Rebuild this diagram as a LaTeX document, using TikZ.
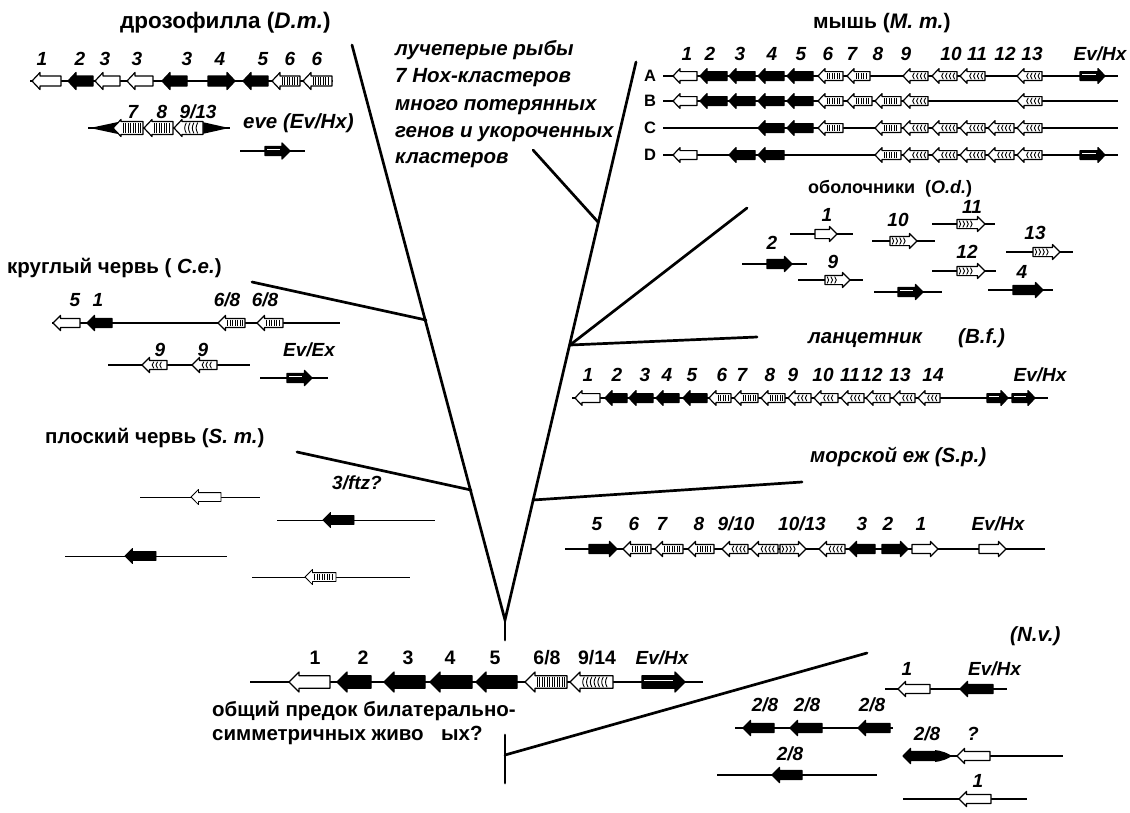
\documentclass[tikz,border=0pt]{standalone}
\usepackage{fontspec}
\setmainfont{Liberation Sans}
\newcommand\ghh{7.6}
\newcommand\gbh{4.4}
\newcommand\ghl{7.5}
\tikzset{
  chrom/.style={line width=1.2pt},
  branch/.style={line width=2.7pt,line cap=round},
  genebox/.style={line width=1.2pt,line join=round,draw=black},
  ttl/.style={font=\fontsize{20.5}{24}\selectfont\bfseries,inner sep=0pt,anchor=base west},
  ttli/.style={font=\fontsize{20.5}{24}\selectfont\bfseries\itshape,inner sep=0pt,anchor=base west},
  num/.style={font=\fontsize{19}{20}\selectfont\bfseries\itshape,inner sep=0pt,anchor=base},
  numw/.style={font=\fontsize{19}{20}\selectfont\bfseries\itshape,inner sep=0pt,anchor=base west},
  numu/.style={font=\fontsize{19.5}{20}\selectfont\bfseries,inner sep=0pt,anchor=base},
  rowlab/.style={font=\fontsize{16.5}{18}\selectfont\bfseries,inner sep=0pt,anchor=center},
}
\newcommand\gdraw[1]{\path[#1] (\gtip,\gy) -- (\gneck,\gy-\ghh) -- (\gneck,\gy-\gbh) -- (\gtail,\gy-\gbh) -- (\gtail,\gy+\gbh) -- (\gneck,\gy+\gbh) -- (\gneck,\gy+\ghh) -- cycle;}
\newcommand\gfillW{\gdraw{genebox,fill=white}}
\newcommand\gfillB{\gdraw{genebox,fill=black}}
\newcommand\gfillK{\gdraw{genebox,fill=black}\draw[white,line width=0.9pt] (\glo,\gy-1.2) -- (\ghi,\gy-1.2);}
\newcommand\gfillS{\gdraw{genebox,fill=white}%
  \pgfmathsetmacro\gnext{\glo+2.5}%
  \foreach \xx in {\glo,\gnext,...,\ghi}{\draw[line width=0.9pt] (\xx,\gy-\gbh+1.2) -- (\xx,\gy+\gbh-1.2);}}
\newcommand\gfillC{\gdraw{genebox,fill=white}%
  \pgfmathsetmacro\gfirst{\glo+1}\pgfmathsetmacro\gnext{\glo+4.8}\pgfmathsetmacro\glast{\ghi-1}%
  \foreach \xx in {\gfirst,\gnext,...,\glast}{%
    \pgfmathsetmacro\xa{\xx+\gs}\pgfmathsetmacro\xb{\xx-\gs}%
    \draw[line width=0.9pt,line cap=round] (\xa,\gy-\gbh+1.4) .. controls (\xb,\gy-1) and (\xb,\gy+1) .. (\xa,\gy+\gbh-1.4);}}
\newcommand\gene[5]{%
  \begingroup
  \def\gy{#5}%
  \if L#2\relax
    \pgfmathsetmacro\gtip{#3}\pgfmathsetmacro\gneck{#3+\ghl}\pgfmathsetmacro\gtail{#4}\def\gs{1}%
  \else
    \pgfmathsetmacro\gtip{#4}\pgfmathsetmacro\gneck{#4-\ghl}\pgfmathsetmacro\gtail{#3}\def\gs{(-1)}%
  \fi
  \pgfmathsetmacro\gA{\gneck+\gs*2.2}%
  \pgfmathsetmacro\gB{\gtail-\gs*2.2}%
  \pgfmathsetmacro\glo{min(\gA,\gB)}%
  \pgfmathsetmacro\ghi{max(\gA,\gB)}%
  \csname gfill#1\endcsname
  \endgroup}
\newcommand\lab[4][num]{\node[#1] (#2) at (#3) {#4};}
\begin{document}
\begin{tikzpicture}[x=1pt,y=-1pt]
\fill[white] (0,0) rectangle (1130,812);
\useasboundingbox (0,0) rectangle (1130,812);

% ---------------- tree ----------------
\coordinate (root) at (505,640);
\coordinate (V) at (505,620);
\coordinate (Ltop) at (352,45);
\coordinate (Rtop) at (636,62);
\coordinate (jFish) at (598,222);
\coordinate (fishEnd) at (533,150);
\coordinate (jTun) at (570,345);
\coordinate (tunEnd) at (747,208);
\coordinate (lanEnd) at (757,337);
\coordinate (jUrch) at (533,500);
\coordinate (urchEnd) at (802,482);
\coordinate (jRound) at (426,320);
\coordinate (roundEnd) at (252,282);
\coordinate (jFlat) at (471,490);
\coordinate (flatEnd) at (297,452);
\coordinate (nvTop) at (505,735);
\coordinate (nvBot) at (505,783);
\coordinate (jNv) at (505,755);
\coordinate (nvEnd) at (867,653);
\draw[branch] (Ltop) -- (V) -- (Rtop);
\draw[branch] (V) -- (root);
\draw[branch] (jFish) -- (fishEnd);
\draw[branch] (jTun) -- (tunEnd);
\draw[branch] (jTun) -- (lanEnd);
\draw[branch] (jUrch) -- (urchEnd);
\draw[branch] (jRound) -- (roundEnd);
\draw[branch] (jFlat) -- (flatEnd);
\draw[branch] (nvTop) -- (nvBot);
\draw[branch] (jNv) -- (nvEnd);

% ---------------- Drosophila ----------------
\lab[ttl,font=\fontsize{22.5}{24}\selectfont\bfseries]{dmT}{120,28}{дрозофилла (\textit{D.m.})}
\begin{scope}
\def\gbh{5}\def\ghh{8.5}\def\ghl{8}
\draw[chrom] (30,81) -- (333,81);
\gene{W}{L}{32}{61}{81}
\gene{B}{L}{68}{93}{81}
\gene{W}{L}{95}{120}{81}
\gene{W}{L}{127}{153}{81}
\gene{B}{L}{162}{187}{81}
\gene{B}{R}{208}{235}{81}
\gene{B}{L}{243}{268}{81}
\gene{S}{L}{272}{300}{81}
\gene{S}{L}{303}{332}{81}
\draw[chrom] (88,128) -- (230,128);
\fill (90,128) -- (118,122) -- (118,134) -- cycle;
\fill (200,121.5) -- (200,134.5) -- (229,128) -- cycle;
\def\gbh{6.5}\def\ghh{8.5}
\gene{S}{L}{113}{143}{128}
\gene{S}{L}{144}{173}{128}
\gene{C}{L}{174}{203}{128}
\def\gbh{4.5}\def\ghh{8}
\draw[chrom] (240,151) -- (305,151);
\gene{K}{R}{265}{290}{151}
\end{scope}
\lab{dm1}{42,65}{1}
\lab{dm2}{80,65}{2}
\lab{dm3}{105,65}{3}
\lab{dm4}{137,65}{3}
\lab{dm5}{187,65}{3}
\lab{dm6}{220,65}{4}
\lab{dm7}{263,65}{5}
\lab{dm8}{290,65}{6}
\lab{dm9}{317,65}{6}
\lab{dm10}{133,118}{7}
\lab{dm11}{162,118}{8}
\lab{dm12}{198,118}{9/13}
\lab[ttli]{eve}{243,128}{eve (Ev/Hx)}

% ---------------- ray-finned fishes ----------------
\lab[ttli]{fish1}{395,55}{лучеперые рыбы}
\lab[ttli]{fish2}{395,82}{7 Hox-кластеров}
\lab[ttli]{fish3}{395,110}{много потерянных}
\lab[ttli]{fish4}{395,137}{генов и укороченных}
\lab[ttli]{fish5}{395,163}{кластеров}

% ---------------- mouse ----------------
\lab[ttl,font=\fontsize{21}{24}\selectfont\bfseries]{mmT}{813,28}{мышь (\textit{M. m.})}
\lab{mm1}{687,60}{1}
\lab{mm2}{710,60}{2}
\lab{mm3}{740,60}{3}
\lab{mm4}{772,60}{4}
\lab{mm5}{801,60}{5}
\lab{mm6}{828,60}{6}
\lab{mm7}{852,60}{7}
\lab{mm8}{878,60}{8}
\lab{mm9}{906,60}{9}
\lab{mm10}{951,60}{10}
\lab{mm11}{977,60}{11}
\lab{mm12}{1005,60}{12}
\lab{mm13}{1032,60}{13}
\lab{mm14}{1100,60}{Ev/Hx}
\lab[rowlab]{rA}{650,76}{A}
\lab[rowlab]{rB}{650,101}{B}
\lab[rowlab]{rC}{650,128}{C}
\lab[rowlab]{rD}{650,155}{D}
\begin{scope}
\def\gbh{4.4}\def\ghh{7.4}\def\ghl{7}
\draw[chrom] (663,76) -- (1118,76);
\gene{W}{L}{673}{697}{76}
\gene{B}{L}{700}{727}{76}
\gene{B}{L}{729}{755}{76}
\gene{B}{L}{758}{784}{76}
\gene{B}{L}{787}{813}{76}
\gene{S}{L}{818}{843}{76}
\gene{S}{L}{847}{870}{76}
\gene{C}{L}{903}{928}{76}
\gene{C}{L}{932}{957}{76}
\gene{C}{L}{960}{985}{76}
\gene{C}{L}{1017}{1042}{76}
\gene{K}{R}{1080}{1105}{76}
\draw[chrom] (663,101) -- (1118,101);
\gene{W}{L}{673}{697}{101}
\gene{B}{L}{700}{727}{101}
\gene{B}{L}{729}{755}{101}
\gene{B}{L}{758}{784}{101}
\gene{B}{L}{787}{813}{101}
\gene{S}{L}{818}{843}{101}
\gene{S}{L}{847}{872}{101}
\gene{S}{L}{875}{901}{101}
\gene{C}{L}{903}{928}{101}
\gene{C}{L}{1017}{1042}{101}
\draw[chrom] (663,128) -- (1118,128);
\gene{B}{L}{758}{784}{128}
\gene{B}{L}{787}{813}{128}
\gene{S}{L}{818}{843}{128}
\gene{S}{L}{875}{901}{128}
\gene{C}{L}{903}{928}{128}
\gene{C}{L}{932}{957}{128}
\gene{C}{L}{960}{985}{128}
\gene{C}{L}{988}{1014}{128}
\gene{C}{L}{1017}{1042}{128}
\draw[chrom] (663,155) -- (1118,155);
\gene{W}{L}{673}{697}{155}
\gene{B}{L}{729}{755}{155}
\gene{B}{L}{758}{784}{155}
\gene{S}{L}{875}{901}{155}
\gene{C}{L}{903}{928}{155}
\gene{C}{L}{932}{957}{155}
\gene{C}{L}{960}{985}{155}
\gene{C}{L}{988}{1014}{155}
\gene{C}{L}{1017}{1042}{155}
\gene{K}{R}{1080}{1105}{155}
\end{scope}

% ---------------- tunicates ----------------
\lab[ttl,font=\fontsize{18}{24}\selectfont\bfseries]{odT}{808,193}{оболочники\ \ (\textit{O.d.})}
\lab{od1}{827,221}{1}
\lab{od2}{772,249}{2}
\lab{od10}{898,226}{10}
\lab{od9}{833,268}{9}
\lab{od11}{972,213}{11}
\lab{od12}{967,258}{12}
\lab{od13}{1035,239}{13}
\lab{od4}{1022,278}{4}
\begin{scope}
\def\gbh{4.6}\def\ghh{7.5}\def\ghl{7.5}
\draw[chrom] (790,234) -- (853,234);
\gene{W}{R}{815}{837}{234}
\draw[chrom] (742,264) -- (807,264);
\gene{B}{R}{767}{792}{264}
\draw[chrom] (872,241) -- (935,241);
\gene{C}{R}{890}{917}{241}
\draw[chrom] (798,280) -- (863,280);
\gene{C}{R}{825}{850}{280}
\draw[chrom] (874,292) -- (942,292);
\gene{K}{R}{898}{923}{292}
\draw[chrom] (932,224) -- (995,224);
\gene{C}{R}{957}{985}{224}
\draw[chrom] (932,271) -- (996,271);
\gene{C}{R}{957}{985}{271}
\draw[chrom] (1006,252) -- (1073,252);
\gene{C}{R}{1033}{1060}{252}
\draw[chrom] (988,290) -- (1053,290);
\gene{B}{R}{1013}{1043}{290}
\end{scope}

% ---------------- lancelet ----------------
\lab[ttli]{bfT}{808,343}{ланцетник}
\lab[ttli]{bfT2}{958,343}{(B.f.)}
\lab{bf1}{588,381}{1}
\lab{bf2}{617,381}{2}
\lab{bf3}{645,381}{3}
\lab{bf4}{667,381}{4}
\lab{bf5}{692,381}{5}
\lab{bf6}{722,381}{6}
\lab{bf7}{742,381}{7}
\lab{bf8}{770,381}{8}
\lab{bf9}{793,381}{9}
\lab{bf10}{823,381}{10}
\lab{bf11}{850,381}{11}
\lab{bf12}{872,381}{12}
\lab{bf13}{900,381}{13}
\lab{bf14}{933,381}{14}
\lab{bf15}{1040,381}{Ev/Hx}
\begin{scope}
\def\gbh{4.4}\def\ghh{7.4}\def\ghl{7}
\draw[chrom] (572,398) -- (1048,398);
\gene{W}{L}{575}{600}{398}
\gene{B}{L}{605}{627}{398}
\gene{B}{L}{629}{653}{398}
\gene{B}{L}{656}{679}{398}
\gene{B}{L}{683}{707}{398}
\gene{S}{L}{709}{731}{398}
\gene{S}{L}{734}{758}{398}
\gene{S}{L}{761}{785}{398}
\gene{C}{L}{788}{811}{398}
\gene{C}{L}{814}{838}{398}
\gene{C}{L}{841}{864}{398}
\gene{C}{L}{866}{890}{398}
\gene{C}{L}{893}{915}{398}
\gene{C}{L}{918}{940}{398}
\gene{K}{R}{987}{1008}{398}
\gene{K}{R}{1012}{1035}{398}
\end{scope}

% ---------------- round worm ----------------
\lab[ttl]{ceT}{7,273}{круглый червь (\textit{ C.e.})}
\lab{ce1}{75,306}{5}
\lab{ce2}{98,306}{1}
\lab{ce3}{227,306}{6/8}
\lab{ce4}{265,306}{6/8}
\lab{ce5}{160,356}{9}
\lab{ce6}{203,356}{9}
\lab[numw]{ce7}{283,356}{Ev/Ex}
\begin{scope}
\def\gbh{4.5}\def\ghh{7.6}\def\ghl{7.5}
\draw[chrom] (52,323) -- (340,323);
\gene{W}{L}{53}{80}{323}
\gene{B}{L}{87}{112}{323}
\gene{S}{L}{218}{245}{323}
\gene{S}{L}{257}{283}{323}
\draw[chrom] (108,365) -- (250,365);
\gene{C}{L}{142}{167}{365}
\gene{C}{L}{192}{217}{365}
\draw[chrom] (260,378) -- (328,378);
\gene{K}{R}{287}{312}{378}
\end{scope}

% ---------------- flatworm ----------------
\lab[ttl]{smT}{45,443}{плоский червь (\textit{S. m.})}
\lab[numw]{sm1}{332,489}{3/ftz?}
\begin{scope}
\tikzset{genebox/.style={line width=0.8pt,line join=round,draw=black}}
\def\gbh{4.4}\def\ghh{7.6}\def\ghl{7.5}
\draw[line width=0.8pt] (140,497) -- (260,497);
\gene{W}{L}{191}{221}{497}
\draw[line width=0.8pt] (277,520) -- (435,520);
\gene{B}{L}{323}{354}{520}
\draw[line width=0.8pt] (65,556) -- (227,556);
\gene{B}{L}{125}{156}{556}
\draw[line width=0.8pt] (252,577) -- (410,577);
\gene{S}{L}{305}{336}{577}
\end{scope}

% ---------------- sea urchin ----------------
\lab[ttli]{spT}{810,462}{морской еж (S.p.)}
\lab{sp1}{597,530}{5}
\lab{sp2}{634,530}{6}
\lab{sp3}{662,530}{7}
\lab{sp4}{699,530}{8}
\lab{sp5}{736,530}{9/10}
\lab{sp6}{802,530}{10/13}
\lab{sp7}{862,530}{3}
\lab{sp8}{888,530}{2}
\lab{sp9}{921,530}{1}
\lab{sp10}{998,530}{Ev/Hx}
\begin{scope}
\def\gbh{4.5}\def\ghh{7.6}\def\ghl{7.5}
\draw[chrom] (565,549) -- (1045,549);
\gene{B}{R}{589}{617}{549}
\gene{S}{L}{623}{651}{549}
\gene{S}{L}{655}{683}{549}
\gene{S}{L}{688}{714}{549}
\gene{C}{L}{722}{748}{549}
\gene{C}{L}{751}{778}{549}
\gene{C}{R}{780}{806}{549}
\gene{C}{L}{819}{845}{549}
\gene{B}{L}{849}{875}{549}
\gene{B}{R}{882}{908}{549}
\gene{W}{R}{912}{938}{549}
\gene{W}{R}{979}{1006}{549}
\end{scope}

% ---------------- common ancestor ----------------
\lab[numu]{an1}{315,664}{1}
\lab[numu]{an2}{363,664}{2}
\lab[numu]{an3}{408,664}{3}
\lab[numu]{an4}{450,664}{4}
\lab[numu]{an5}{495,664}{5}
\lab[numu]{an6}{547,664}{6/8}
\lab[numu]{an7}{597,664}{9/14}
\lab{an8}{662,664}{Ev/Hx}
\begin{scope}
\def\gbh{6.3}\def\ghh{10}\def\ghl{10}
\draw[chrom] (250,682) -- (703,682);
\gene{W}{L}{289}{330}{682}
\gene{B}{L}{337}{371}{682}
\gene{B}{L}{384}{425}{682}
\gene{B}{L}{430}{472}{682}
\gene{B}{L}{476}{517}{682}
\gene{S}{L}{525}{567}{682}
\gene{C}{L}{570}{613}{682}
\gene{K}{R}{642}{685}{682}
\end{scope}
\lab[ttl]{anc1}{212,716}{общий предок билатерально-}
\lab[ttl]{anc2}{212,740}{симметричных живо\hspace{0.85em}ых?}

% ---------------- N.v. ----------------
\lab[ttli]{nvT}{1010,641}{(N.v.)}
\lab{nv1}{907,675}{1}
\lab[numw]{nv2}{968,675}{Ev/Hx}
\lab{nv3}{765,711}{2/8}
\lab{nv4}{807,711}{2/8}
\lab{nv5}{872,711}{2/8}
\lab{nv6}{927,740}{2/8}
\lab{nv7}{973,740}{?}
\lab{nv8}{790,760}{2/8}
\lab{nv9}{978,787}{1}
\begin{scope}
\def\gbh{4.5}\def\ghh{7.6}\def\ghl{7.5}
\draw[chrom] (885,689) -- (1007,689);
\gene{W}{L}{898}{930}{689}
\gene{B}{L}{960}{993}{689}
\draw[chrom] (735,728) -- (893,728);
\gene{B}{L}{743}{774}{728}
\gene{B}{L}{790}{822}{728}
\gene{B}{L}{858}{890}{728}
\draw[chrom] (940,756) -- (1063,756);
\fill (935,750) .. controls (945,752) .. (952,756) .. controls (945,760) .. (935,762) -- cycle;
\gene{B}{L}{903}{940}{756}
\gene{W}{L}{957}{990}{756}
\draw[chrom] (717,775) -- (877,775);
\gene{B}{L}{772}{802}{775}
\draw[chrom] (903,799) -- (1027,799);
\gene{W}{L}{959}{991}{799}
\end{scope}
\end{tikzpicture}
\end{document}
